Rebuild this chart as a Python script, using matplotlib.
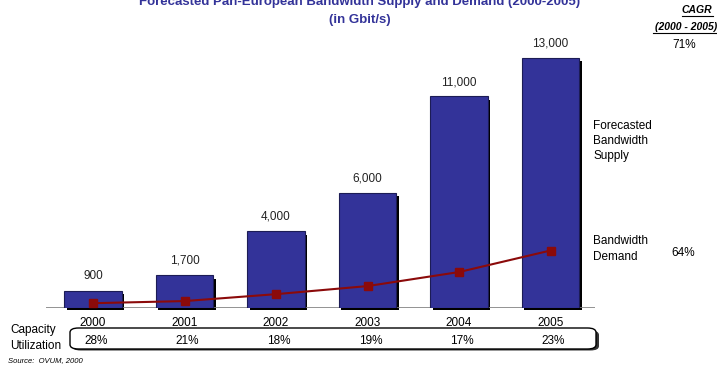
import matplotlib
matplotlib.use("Agg")
import matplotlib.pyplot as plt
from matplotlib.patches import FancyBboxPatch

plt.rcParams['font.family'] = ['Liberation Sans', 'DejaVu Sans']

years = ["2000", "2001", "2002", "2003", "2004", "2005"]
supply = [900, 1700, 4000, 6000, 11000, 13000]
demand = [250, 360, 720, 1140, 1870, 2990]
utilization = ["28%", "21%", "18%", "19%", "17%", "23%"]
supply_labels = ["900", "1,700", "4,000", "6,000", "11,000", "13,000"]
cagr_supply = "71%"
cagr_demand = "64%"

W, H = 717, 367
fig = plt.figure(figsize=(W / 100, H / 100), dpi=100)

def fx(px):
    return px / W

def fy(py):
    return 1 - py / H

# axes: x from 46 to 595 px, y baseline at 308 px, top at 40 px
ax = fig.add_axes([fx(46), fy(308), fx(595) - fx(46), fy(40) - fy(308)])
ax.set_xlim(-0.514, 5.486)
ax.set_ylim(0, 13000 * 268 / 250)
ax.axis('off')
ax.set_zorder(3)

x = list(range(len(years)))
bw = 0.63
bar_color = '#333399'
fs = 8.5

# shadow bars
ax.bar([i + 0.026 for i in x], [v - 90 for v in supply], bottom=-90, width=bw,
       color='black', zorder=1, clip_on=False)
ax.bar(x, supply, width=bw, color=bar_color, edgecolor='#1c1c55', linewidth=0.8,
       zorder=2)

# baseline
ax.axhline(0, color='#808080', lw=1.2, zorder=1.5)

for i, lab in zip(x, supply_labels):
    ax.annotate(lab, (i, supply[i]), xytext=(0, 6), textcoords='offset points',
                ha='center', va='bottom', fontsize=fs, color='#222222')

ax.plot(x, demand, color='#8B0A0A', lw=1.5, marker='s', markersize=5.5, zorder=3,
        clip_on=False)

# year labels
for i in x:
    ax.annotate(years[i], (i, 0), xytext=(0, -11), textcoords='offset points',
                ha='center', va='center', fontsize=fs, color='black',
                annotation_clip=False)

# utilization box (with shadow)
shadow = FancyBboxPatch((fx(72), fy(350.5)), fx(597) - fx(70), fy(329) - fy(349),
                        boxstyle="round,pad=0,rounding_size=0.012",
                        transform=fig.transFigure, facecolor='#333333',
                        edgecolor='none', zorder=1)
box = FancyBboxPatch((fx(70), fy(349)), fx(596) - fx(70), fy(328) - fy(349),
                     boxstyle="round,pad=0,rounding_size=0.012",
                     transform=fig.transFigure, facecolor='white',
                     edgecolor='black', lw=1.0, zorder=2)
fig.patches.extend([shadow, box])

for i in x:
    ax.annotate(utilization[i], (i, 0), xytext=(2, -24), textcoords='offset points',
                ha='center', va='center', fontsize=fs, color='black',
                annotation_clip=False)

fig.text(fx(10), fy(338), "Capacity\nUtilization", ha='left', va='center',
         fontsize=fs, linespacing=1.35)
fig.text(fx(8), fy(361), "Source:  OVUM, 2000", ha='left', va='center',
         fontsize=5.5, style='italic')

# title
title_col = '#333399'
fig.text(fx(360), fy(2), "Forecasted Pan-European Bandwidth Supply and Demand (2000-2005)",
         ha='center', va='center', fontsize=9.5, fontweight='bold', color=title_col)
fig.text(fx(360), fy(20), "(in Gbit/s)", ha='center', va='center',
         fontsize=9.5, fontweight='bold', color=title_col)

# CAGR header
fig.text(fx(697), fy(10), "CAGR", ha='center', va='center', fontsize=7.5,
         fontweight='bold', style='italic')
fig.text(fx(717), fy(27), "(2000 - 2005)", ha='right', va='center', fontsize=7.5,
         fontweight='bold', style='italic')
fig.add_artist(plt.Line2D([fx(682), fx(713)], [fy(16), fy(16)], color='black', lw=0.8))
fig.add_artist(plt.Line2D([fx(653), fx(717)], [fy(33), fy(33)], color='black', lw=0.8))

fig.text(fx(684), fy(45), cagr_supply, ha='center', va='center', fontsize=fs)
fig.text(fx(683), fy(253), cagr_demand, ha='center', va='center', fontsize=fs)

fig.text(fx(593), fy(141), "Forecasted\nBandwidth\nSupply", ha='left', va='center',
         fontsize=fs, linespacing=1.3)
fig.text(fx(593), fy(249), "Bandwidth\nDemand", ha='left', va='center',
         fontsize=fs, linespacing=1.4)

fig.savefig("out.png", dpi=100)
